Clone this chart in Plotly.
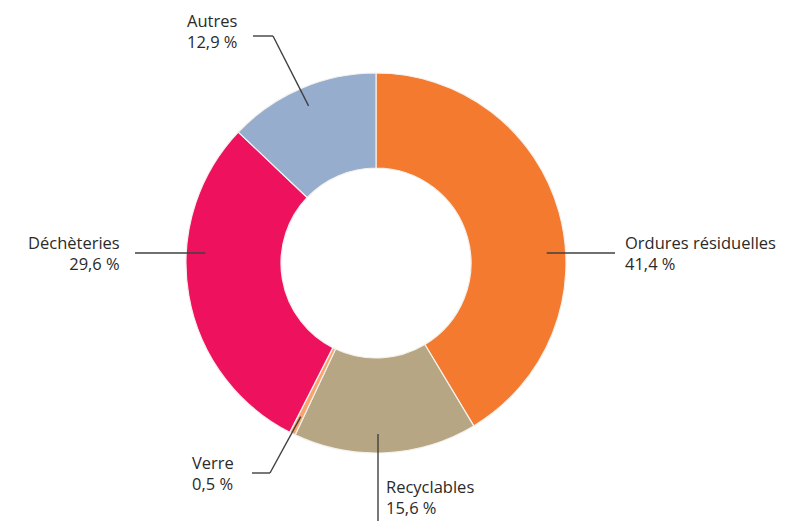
import math
import plotly.graph_objects as go

# ---- data ----
labels = ["Ordures résiduelles", "Recyclables", "Verre", "Déchèteries", "Autres"]
values = [41.4, 15.6, 0.5, 29.6, 12.9]
pct_labels = ["41,4 %", "15,6 %", "0,5 %", "29,6 %", "12,9 %"]
colors = ["#F37A2F", "#B6A683", "#F8A46B", "#EE125E", "#96ADCE"]

# ---- layout constants (pixels, in page coordinates) ----
OFF = 8                      # default body margin of the html page
W, H = 791 - OFF, 521 - OFF  # figure size
CX, CY, R = 376, 263, 190
HOLE = 0.5
RA = 0.9 * R  # leader anchor radius

# leader layout: mode, line pieces and text placement (ty = centre of 2-line block)
leader = {
    "Ordures résiduelles": dict(mode="h", y=253, end=615, tx=625, ty=253, xa="left"),
    "Recyclables": dict(mode="v", x=378, end=540, tx=386, ty=497, xa="left"),
    "Verre": dict(mode="elbow", elbow=(270, 473), end=(252, 473), tx=192, ty=473, xa="left"),
    "Déchèteries": dict(mode="h", y=253, end=135, tx=120, ty=253, xa="right"),
    "Autres": dict(mode="elbow", elbow=(273, 36), end=(253, 36), tx=187, ty=31, xa="left"),
}

def px(x):
    return (x - OFF) / W

def py(y):
    return 1 - (y - OFF) / H

fig = go.Figure(go.Pie(
    labels=labels, values=values, hole=HOLE, sort=False,
    direction="clockwise", rotation=0,
    marker=dict(colors=colors, line=dict(color="#F4F1EC", width=1.2)),
    textinfo="none", showlegend=False,
    domain=dict(x=[px(CX - R), px(CX + R)], y=[py(CY + R), py(CY - R)]),
))

shapes = []
annotations = []
total = sum(values)
cum = 0.0
font = dict(family="Open Sans", size=16.5, color="#2A2A2A")
for lab, val, pct in zip(labels, values, pct_labels):
    mid = (cum + val / 2) / total * 2 * math.pi
    cum += val
    s, c = math.sin(mid), math.cos(mid)
    spec = leader[lab]
    if spec["mode"] == "h":
        y = spec["y"]
        dx = math.sqrt(max(RA ** 2 - (y - CY) ** 2, 0))
        ax = CX + (dx if s >= 0 else -dx)
        pts = [(ax, y), (spec["end"], y)]
    elif spec["mode"] == "v":
        x = spec["x"]
        dy = math.sqrt(max(RA ** 2 - (x - CX) ** 2, 0))
        ay = CY + (dy if c < 0 else -dy)
        pts = [(x, ay), (x, spec["end"])]
    else:
        ax, ay = CX + RA * s, CY - RA * c
        pts = [(ax, ay), spec["elbow"], spec["end"]]
    for (x0, y0), (x1, y1) in zip(pts[:-1], pts[1:]):
        shapes.append(dict(type="line", xref="paper", yref="paper",
                           x0=px(x0), y0=py(y0), x1=px(x1), y1=py(y1),
                           line=dict(color="#404040", width=1.4)))
    annotations.append(dict(
        xref="paper", yref="paper", x=px(spec["tx"]), y=py(spec["ty"]),
        xanchor=spec["xa"], yanchor="middle", align=spec["xa"],
        text=f"{lab}<br>{pct}", showarrow=False, font=font, borderpad=0,
        xshift=-1 if spec["xa"] == "left" else 1,
    ))

fig.update_layout(
    width=W, height=H,
    margin=dict(l=0, r=0, t=0, b=0),
    paper_bgcolor="white", plot_bgcolor="white",
    shapes=shapes, annotations=annotations,
)

fig.write_html("out.html")
